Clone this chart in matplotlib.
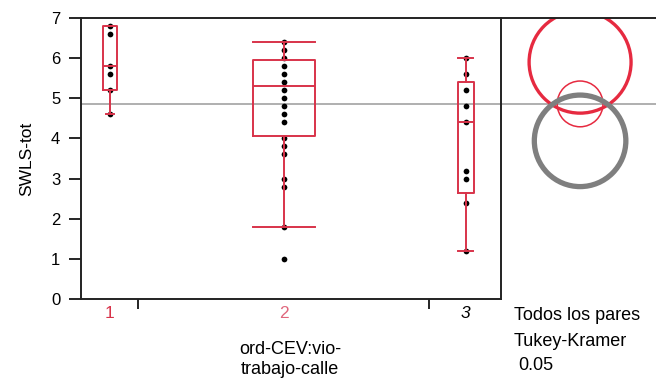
import numpy as np
import matplotlib.pyplot as plt
from matplotlib.patches import Circle

plt.rcParams['font.family'] = ['Liberation Sans', 'DejaVu Sans']

# valores de SWLS-tot por grupo
grupo1 = [6.8, 6.6, 5.8, 5.6, 5.2, 4.6]
grupo2 = [6.4, 6.2, 6.0, 5.8, 5.6, 5.4, 5.2, 5.0, 4.8, 4.6, 4.4,
          4.0, 3.8, 3.6, 3.0, 2.8, 1.8, 1.0]
grupo3 = [6.0, 5.6, 5.2, 4.8, 4.4, 3.2, 3.0, 2.4, 1.2]

etiquetas = ['1', '2', '3']

# cuantiles de cada caja (q1, mediana, q3, bigote inf, bigote sup)
q1 = [5.2, 4.05, 2.65]
mediana = [5.8, 5.3, 4.4]
q3 = [6.8, 5.95, 5.4]
bigote_inf = [4.6, 1.8, 1.2]
bigote_sup = [6.8, 6.4, 6.0]

media_global = 4.86

# circulos de comparacion (centro, radio)
circ_centro = [5.9, 4.86, 3.94]
circ_radio = [1.27, 0.57, 1.14]

rojo = '#d8334a'

W, H = 656, 379
fig = plt.figure(figsize=(W / 100, H / 100), dpi=100)
ax = fig.add_axes([81/W, 80/H, 420/W, 281/H])
ax2 = fig.add_axes([501/W, 80/H, 155/W, 281/H])

posiciones = [0.069, 0.483, 0.916]
anchos = [0.033, 0.148, 0.038]
anchos_cap = [0.021, 0.148, 0.036]

for pos, datos in zip(posiciones, [grupo1, grupo2, grupo3]):
    ax.scatter([pos] * len(datos), datos, s=17, color='black', zorder=2, linewidths=0)

stats = []
for i in range(3):
    stats.append({'med': mediana[i], 'q1': q1[i], 'q3': q3[i],
                  'whislo': bigote_inf[i], 'whishi': bigote_sup[i], 'fliers': []})

linea = dict(color=rojo, linewidth=1.4)
ax.bxp(stats, positions=posiciones, widths=anchos, capwidths=anchos_cap,
       boxprops=linea, whiskerprops=linea, capprops=linea, medianprops=linea,
       showfliers=False, manage_ticks=False, zorder=3)

ax.axhline(media_global, color='#9a9a9a', linewidth=1.1, zorder=1)

ax.set_xlim(0, 1)
ax.set_ylim(0, 7)
ax.set_yticks(range(8))
ax.tick_params(axis='y', labelsize=12, length=9, width=1.2, pad=6)
ax.set_ylabel('SWLS-tot', fontsize=12.5, labelpad=12)

# separadores entre grupos como ticks del eje x
ax.set_xticks([0.136, 0.829])
ax.set_xticklabels([])
ax.tick_params(axis='x', length=7, width=1.2)
for pos, et, col, est in zip(posiciones, etiquetas, [rojo, '#e0667c', 'black'],
                             ['normal', 'normal', 'italic']):
    ax.text(pos, -14 / 281, et, color=col, style=est, fontsize=12.5,
            ha='center', va='center', transform=ax.get_xaxis_transform())

for s in ['left', 'top', 'bottom']:
    ax.spines[s].set_linewidth(1.4)
    ax.spines[s].set_color('#222222')
ax.spines['right'].set_visible(False)

fig.text(290/W, 1 - 350/H, 'ord-CEV:vio-', fontsize=13, ha='center', va='center')
fig.text(290/W, 1 - 370/H, 'trabajo-calle', fontsize=13, ha='center', va='center')

# panel derecho: circulos de comparacion
bbox = ax2.get_position()
ancho_x = 7 * (bbox.width * W) / (bbox.height * H)
ax2.set_xlim(0, ancho_x)
ax2.set_ylim(0, 7)
cx = 79 / 40.1
ax2.axhline(media_global, color='#9a9a9a', linewidth=1.1, zorder=1)
ax2.add_patch(Circle((cx, circ_centro[0]), circ_radio[0], fill=False, edgecolor='#e62a40', linewidth=2.4))
ax2.add_patch(Circle((cx, circ_centro[1]), circ_radio[1], fill=False, edgecolor='#e62a40', linewidth=1.1))
ax2.add_patch(Circle((cx, circ_centro[2]), circ_radio[2], fill=False, edgecolor='#7f7f7f', linewidth=3.8))
ax2.set_xticks([])
ax2.set_yticks([])
for s in ['right', 'bottom']:
    ax2.spines[s].set_visible(False)
for s in ['left', 'top']:
    ax2.spines[s].set_linewidth(1.4)
    ax2.spines[s].set_color('#222222')

fig.text(514/W, 1 - 315/H, 'Todos los pares', fontsize=13, ha='left', va='center')
fig.text(514/W, 1 - 341/H, 'Tukey-Kramer', fontsize=13, ha='left', va='center')
fig.text(518/W, 1 - 365/H, '0.05', fontsize=13, ha='left', va='center')

fig.savefig('out.png', dpi=100)
